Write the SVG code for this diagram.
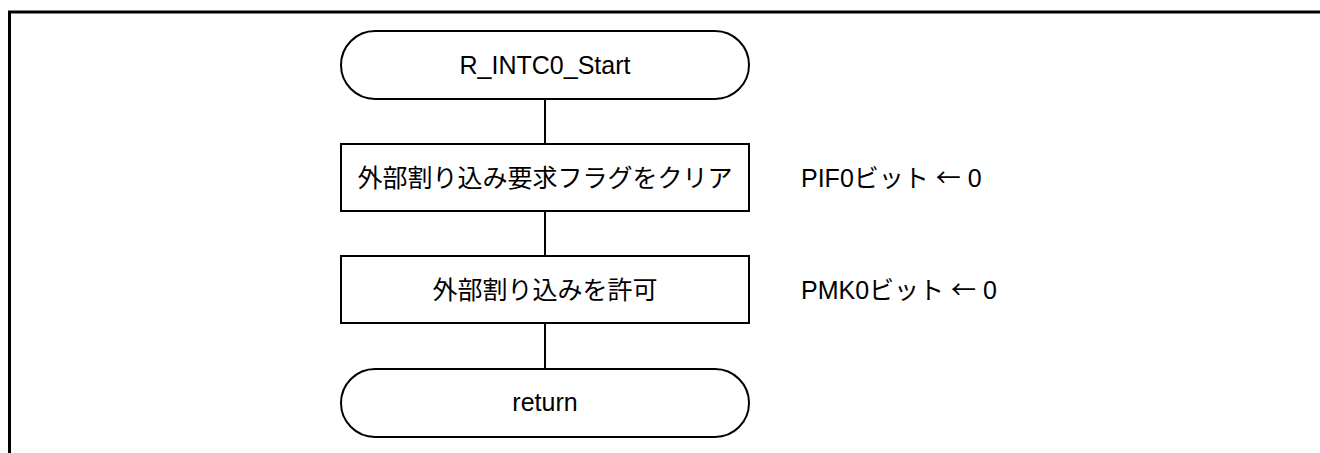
<svg xmlns="http://www.w3.org/2000/svg" width="1320" height="453" viewBox="0 0 1320 453">
<style>
.frame{fill:none;stroke:#000;stroke-width:3}
.shape{fill:#fff;stroke:#000;stroke-width:2}
.conn{fill:none;stroke:#000;stroke-width:2}
text{font-family:"Liberation Sans","Noto Sans CJK JP",sans-serif;font-size:25px;fill:#000}
.c{text-anchor:middle}
.ar{font-family:"Noto Sans CJK JP",sans-serif}
</style>
<rect width="1320" height="453" fill="#fff"/>
<path class="frame" d="M9.5,453 V12 H1320"/>
<g id="connectors">
<line class="conn" x1="545" y1="99" x2="545" y2="144"/>
<line class="conn" x1="545" y1="211" x2="545" y2="256"/>
<line class="conn" x1="545" y1="323" x2="545" y2="369"/>
</g>
<g id="start">
<rect class="shape" x="341" y="31" width="408" height="68" rx="34" ry="34"/>
<text class="c" x="545" y="73.5">R_INTC0_Start</text>
</g>
<g id="clearflag">
<rect class="shape" x="341" y="144" width="408" height="67"/>
<text class="c" x="545" y="186.5">外部割り込み要求フラグをクリア</text>
<text x="801" y="186.5">PIF0ビット <tspan class="ar">←</tspan> 0</text>
</g>
<g id="enable">
<rect class="shape" x="341" y="256" width="408" height="67"/>
<text class="c" x="545" y="298.5">外部割り込みを許可</text>
<text x="801" y="298.5">PMK0ビット <tspan class="ar">←</tspan> 0</text>
</g>
<g id="return">
<rect class="shape" x="341" y="369" width="408" height="68" rx="34" ry="34"/>
<text class="c" x="545" y="411">return</text>
</g>
</svg>
